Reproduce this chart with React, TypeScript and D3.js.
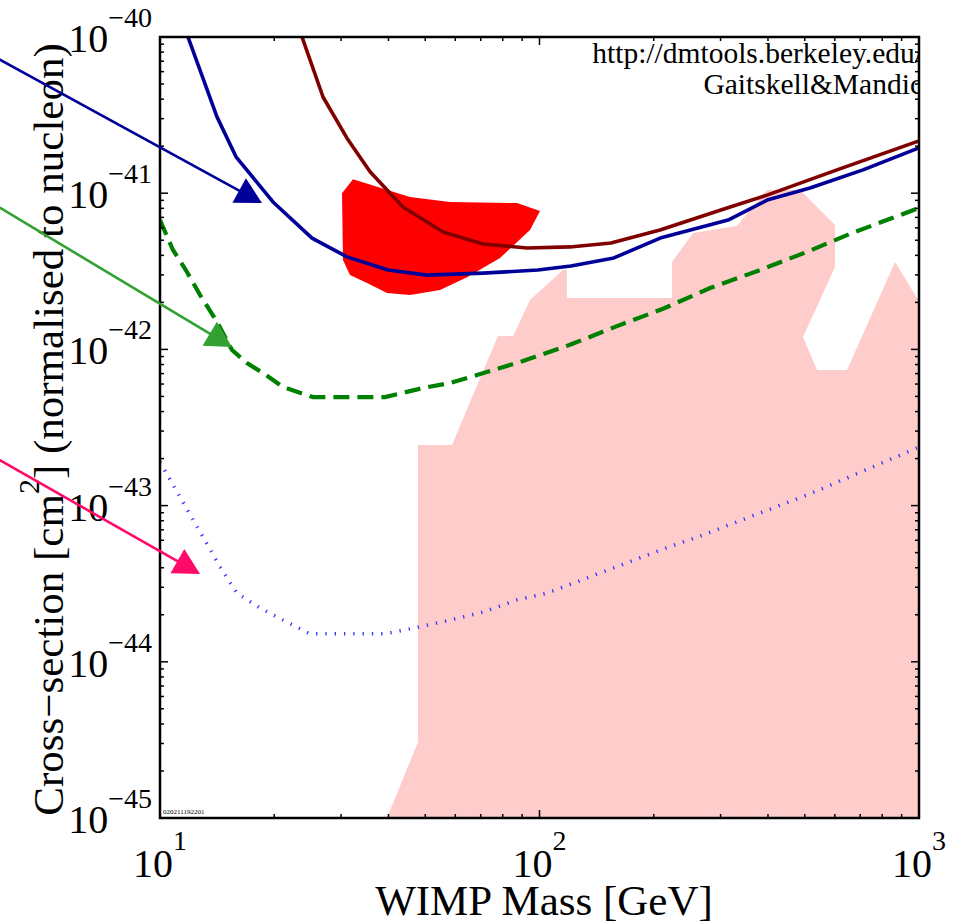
import React from "react";
import * as d3 from "d3";

// ---------------- data ----------------
const xMajor = [10, 100, 1000];
const xMajorExp = ["1", "2", "3"];
const yMajor = [1e-40, 1e-41, 1e-42, 1e-43, 1e-44, 1e-45];
const yMajorExp = ["−40", "−41", "−42", "−43", "−44", "−45"];

// solid navy curve
const massNavy = [11.85, 14.13, 15.86, 19.85, 25.15, 31.1, 39.9, 50.5, 71, 99, 121, 157, 208, 314, 398, 516, 712, 1000];
const sigmaNavy = [1.0e-40, 3.08e-41, 1.71e-41, 8.79e-42, 5.16e-42, 3.91e-42, 3.22e-42, 2.99e-42, 3.08e-42, 3.22e-42, 3.42e-42, 3.85e-42, 5.16e-42, 6.73e-42, 9.04e-42, 1.08e-41, 1.41e-41, 1.95e-41];

// solid maroon curve
const massMaroon = [23.67, 26.89, 31.1, 35.77, 43.68, 55.7, 71, 92.7, 120.3, 154.3, 207.7, 312, 397.6, 608, 1000];
const sigmaMaroon = [1.0e-40, 4.13e-41, 2.25e-41, 1.37e-41, 8.17e-42, 5.65e-42, 4.73e-42, 4.46e-42, 4.53e-42, 4.8e-42, 5.81e-42, 8.04e-42, 9.72e-42, 1.41e-41, 2.16e-41];

// dashed green curve
const massGreen = [10, 10.82, 11.78, 12.75, 14.13, 15.48, 16.95, 18.68, 21.09, 25.3, 39.16, 49.32, 58.1, 68.43, 90.49, 120.3, 160.1, 211.6, 281.4, 381.1, 506.9, 666.2, 1000];
const sigmaGreen = [6.73e-42, 4.33e-42, 3.13e-42, 2.23e-42, 1.5e-42, 9.91e-43, 8.18e-43, 7.06e-43, 5.74e-43, 4.95e-43, 4.95e-43, 5.66e-43, 6.1e-43, 6.85e-43, 8.43e-43, 1.07e-42, 1.41e-42, 1.82e-42, 2.47e-42, 3.22e-42, 4.21e-42, 5.56e-42, 8.04e-42];

// dotted blue curve
const massDotted = [10, 11.5, 12.98, 14.39, 15.96, 18.34, 21.09, 24.85, 39.16, 46.42, 58.1, 70.98, 87.26, 104.7, 156.2, 211.6, 264.9, 516.2, 1000];
const sigmaDotted = [1.9e-43, 1.05e-43, 6.3e-44, 4.05e-44, 2.75e-44, 2.21e-44, 1.85e-44, 1.51e-44, 1.51e-44, 1.64e-44, 1.85e-44, 2.08e-44, 2.49e-44, 2.75e-44, 3.98e-44, 5.27e-44, 6.38e-44, 1.19e-43, 2.37e-43];

// red filled region
const massRed = [30.17, 32.25, 45.58, 58.1, 87.26, 100.3, 94.41, 78.69, 64.41, 54.7, 45.58, 39.64, 35.12, 31.67, 30.35];
const sigmaRed = [1.0e-41, 1.23e-41, 9.46e-42, 8.79e-42, 8.65e-42, 7.69e-42, 5.81e-42, 3.85e-42, 2.9e-42, 2.4e-42, 2.23e-42, 2.3e-42, 2.66e-42, 2.99e-42, 3.73e-42];

// pink filled region
const massPink = [39.64, 47.85, 47.85, 58.8, 77.7, 85.2, 94.4, 115.3, 118.1, 118.1, 223.4, 223.4, 253.9, 331.4, 397.6, 485.8, 600.8, 600.8, 494.7, 538.6, 646.3, 864.8, 987.9, 1000, 1000];
const sigmaPink = [1e-45, 3.07e-45, 2.44e-43, 2.44e-43, 1.22e-42, 1.22e-42, 2.07e-42, 3.22e-42, 3.22e-42, 2.13e-42, 2.13e-42, 3.63e-42, 5.56e-42, 6.17e-42, 1.05e-41, 1.05e-41, 6.25e-42, 3.37e-42, 1.2e-42, 7.38e-43, 7.38e-43, 3.63e-42, 2.13e-42, 2.13e-42, 1e-45];

// annotation arrows
const arrowColors = ["#000099", "#33a032", "#ff0a6a"];
const arrowTailMass = [3.36, 3.36, 3.36];
const arrowTailSigma = [8.38e-41, 9.6e-42, 2.3e-43];
const arrowTipMass = [18.57, 15.48, 12.75];
const arrowTipSigma = [8.65e-42, 1.035e-42, 3.65e-44];

const creditLines = ["http://dmtools.berkeley.edu/", "Gaitskell&Mandic"];

// ---------------- chart ----------------
const W = 960;
const H = 922;
const L = 160, R = 919, T = 37, B = 818;
const FONT = "'Liberation Serif', 'Times New Roman', serif";

const zip = (a: number[], b: number[]) => a.map((v, i) => [v, b[i]] as [number, number]);

export default function App() {
  const x = d3.scaleLog().domain([10, 1000]).range([L, R]);
  const y = d3.scaleLog().domain([1e-45, 1e-40]).range([B, T]);
  const line = d3.line<[number, number]>().x((d) => x(d[0])).y((d) => y(d[1]));
  const area = (pts: [number, number][]) => line(pts) + "Z";

  const xMinor: number[] = [];
  [10, 100].forEach((k) => { for (let i = 2; i <= 9; i++) xMinor.push(i * k); });
  const yMinor: number[] = [];
  for (let e = -45; e <= -41; e++) for (let i = 2; i <= 9; i++) yMinor.push(i * Math.pow(10, e));

  const majLen = 8, minLen = 4;

  const arrows = arrowColors.map((c, i) => {
    const x0 = x(arrowTailMass[i]), y0 = y(arrowTailSigma[i]);
    const x1 = x(arrowTipMass[i]), y1 = y(arrowTipSigma[i]);
    const dx = x1 - x0, dy = y1 - y0;
    const len = Math.hypot(dx, dy);
    const ux = dx / len, uy = dy / len;
    const hl = 26, hw = 14;
    const bx = x1 - ux * hl, by = y1 - uy * hl;
    const p1 = [bx - uy * hw, by + ux * hw];
    const p2 = [bx + uy * hw, by - ux * hw];
    return (
      <g key={i}>
        <line x1={x0} y1={y0} x2={bx + ux * 2} y2={by + uy * 2} stroke={c} strokeWidth={2.6} />
        <polygon points={`${x1},${y1} ${p1[0]},${p1[1]} ${p2[0]},${p2[1]}`} fill={c} />
      </g>
    );
  });

  return (
    <svg width={W} height={H} style={{ position: "absolute", left: 0, top: 0, background: "#fff" }} fontFamily={FONT}>
      <defs>
        <clipPath id="plotClip">
          <rect x={L} y={T} width={R - L} height={B - T} />
        </clipPath>
      </defs>
      <rect x={0} y={0} width={W} height={H} fill="#fff" />
      <g clipPath="url(#plotClip)">
        <path d={area(zip(massPink, sigmaPink))} fill="#ffcccc" />
        <path d={area(zip(massRed, sigmaRed))} fill="#ff0000" />
        <path d={line(zip(massDotted, sigmaDotted)) || ""} fill="none" stroke="#3333ff" strokeWidth={3.5} strokeDasharray="1.3,8" />
        <path d={line(zip(massGreen, sigmaGreen)) || ""} fill="none" stroke="#008000" strokeWidth={4.2} strokeDasharray="16,8" />
        <path d={line(zip(massMaroon, sigmaMaroon)) || ""} fill="none" stroke="#800000" strokeWidth={3.6} strokeLinejoin="round" />
        <path d={line(zip(massNavy, sigmaNavy)) || ""} fill="none" stroke="#000099" strokeWidth={3.6} strokeLinejoin="round" />
        {creditLines.map((t, i) => (
          <text key={t} x={923} y={63 + i * 31} textAnchor="end" fontSize={29.5} fill="#000">{t}</text>
        ))}
        <text x={L + 3} y={B - 4} fontSize={7} fill="#000">020211192201</text>
      </g>

      {/* ticks */}
      <g stroke="#000" strokeWidth={1.5}>
        {xMajor.map((v) => (
          <g key={"xM" + v}>
            <line x1={x(v)} x2={x(v)} y1={B} y2={B - majLen} />
            <line x1={x(v)} x2={x(v)} y1={T} y2={T + majLen} />
          </g>
        ))}
        {xMinor.map((v) => (
          <g key={"xm" + v}>
            <line x1={x(v)} x2={x(v)} y1={B} y2={B - minLen} />
            <line x1={x(v)} x2={x(v)} y1={T} y2={T + minLen} />
          </g>
        ))}
        {yMajor.map((v) => (
          <g key={"yM" + v}>
            <line x1={L} x2={L + majLen} y1={y(v)} y2={y(v)} />
            <line x1={R} x2={R - majLen} y1={y(v)} y2={y(v)} />
          </g>
        ))}
        {yMinor.map((v, i) => (
          <g key={"ym" + i}>
            <line x1={L} x2={L + minLen} y1={y(v)} y2={y(v)} />
            <line x1={R} x2={R - minLen} y1={y(v)} y2={y(v)} />
          </g>
        ))}
      </g>
      <rect x={L} y={T} width={R - L} height={B - T} fill="none" stroke="#000" strokeWidth={2.5} />

      {/* tick labels */}
      {yMajor.map((v, i) => (
        <text key={"yl" + v} x={152} y={y(v) + 15} textAnchor="end" fontSize={40} fill="#000">
          10<tspan dy={-25} fontSize={28}>{yMajorExp[i]}</tspan>
        </text>
      ))}
      {xMajor.map((v, i) => (
        <text key={"xl" + v} x={x(v)} y={877} textAnchor="middle" fontSize={40} fill="#000">
          10<tspan dy={-27} fontSize={28}>{xMajorExp[i]}</tspan>
        </text>
      ))}

      {/* axis titles */}
      <text x={544} y={915} textAnchor="middle" fontSize={43} fill="#000">WIMP Mass [GeV]</text>
      <text transform={`translate(63,${(T + B) / 2 + 2}) rotate(-90)`} textAnchor="middle" fontSize={43} fill="#000">
        Cross−section [cm<tspan dy={-24} fontSize={30}>2</tspan><tspan dy={24}>] (normalised to nucleon)</tspan>
      </text>

      {arrows}
    </svg>
  );
}
